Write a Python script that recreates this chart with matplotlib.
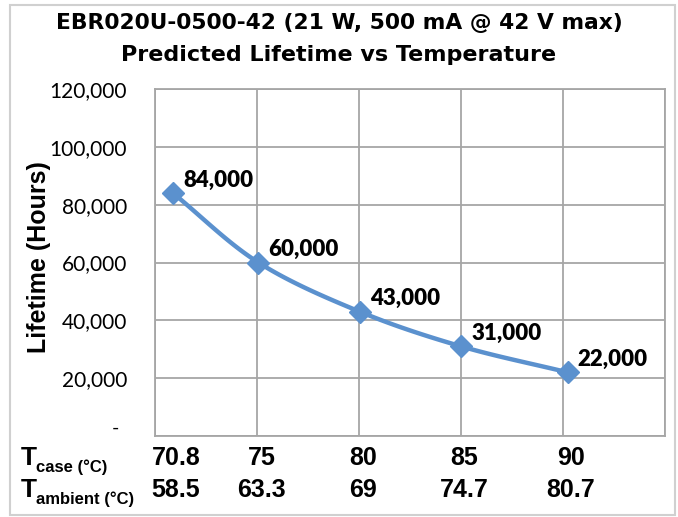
import matplotlib.pyplot as plt
import matplotlib.patches as patches
from matplotlib.ticker import FuncFormatter
import numpy as np

# data
t_case = ["70.8", "75", "80", "85", "90"]
t_ambient = [58.5, 63.3, 69, 74.7, 80.7]
lifetime = [84000, 60000, 43000, 31000, 22000]

W, H = 678, 517
head_font = ['Liberation Sans', 'DejaVu Sans']
title_font = ['DejaVu Sans']
num_font = ['Lato', 'DejaVu Sans']
blue = '#5b91ce'


def px(x, y):
    # pixel position (from top-left) to figure fraction
    return x / W, 1 - y / H


def smooth(xs, ys, n=30):
    # catmull-rom curve like Excel's "smoothed line"
    p = np.column_stack([np.asarray(xs, float), np.asarray(ys, float)])
    p = np.vstack([2 * p[0] - p[1], p, 2 * p[-1] - p[-2]])
    out = []
    t = np.linspace(0, 1, n)[:, None]
    for i in range(1, len(p) - 2):
        p0, p1, p2, p3 = p[i - 1], p[i], p[i + 1], p[i + 2]
        seg = 0.5 * ((2 * p1) + (-p0 + p2) * t + (2 * p0 - 5 * p1 + 4 * p2 - p3) * t ** 2
                     + (-p0 + 3 * p1 - 3 * p2 + p3) * t ** 3)
        out.append(seg)
    out = np.vstack(out)
    return out[:, 0], out[:, 1]


fig = plt.figure(figsize=(W / 100, H / 100), dpi=100)
ax = fig.add_axes([155 / W, 1 - 436 / H, (665 - 155) / W, (436 - 89) / H])

# chart border
fig.patches.append(patches.Rectangle(px(10, 515), (675 - 10) / W, (515 - 5) / H,
                                     transform=fig.transFigure, fill=False,
                                     edgecolor='#d0d0d0', linewidth=1.5))

sx, sy = smooth(t_ambient, lifetime)
ax.plot(sx, sy, color=blue, linewidth=3.2, solid_capstyle='round', zorder=3)
ax.plot(t_ambient, lifetime, linestyle='none', marker='D', markersize=11,
        color=blue, zorder=4)

for xv, yv in zip(t_ambient, lifetime):
    ax.annotate(f"{yv:,}", (xv, yv), xytext=(10, 13), textcoords='offset pixels',
                ha='left', va='center', fontsize=16, fontweight=800,
                family=num_font, zorder=5)

xmin, xmax = 57.49, 86.16
ax.set_xlim(xmin, xmax)
ax.set_xticks(np.linspace(xmin, xmax, 6))
ax.set_xticklabels([])
ax.set_ylim(0, 120000)
ax.set_yticks(np.arange(0, 120001, 20000))
ax.yaxis.set_major_formatter(FuncFormatter(lambda v, p: f"{int(v):,}" if v else ""))
ax.tick_params(length=0, pad=20)
for lab in ax.get_yticklabels():
    lab.set_family(num_font)
    lab.set_fontsize(15)
ax.annotate("-", (0, 0), xycoords=('axes fraction', 'data'), xytext=(-40, 8),
            textcoords='offset pixels', ha='center', va='center',
            fontsize=14, family=num_font, annotation_clip=False)
ax.grid(True, color='#a6a6a6', linewidth=1.3)
ax.set_axisbelow(True)
for s in ax.spines.values():
    s.set_color('#a6a6a6')
    s.set_linewidth(1.3)

ax.set_ylabel("Lifetime (Hours)", fontsize=18, fontweight='bold', family=head_font)
ax.yaxis.set_label_coords(51 / W, 1 - 257 / H, transform=fig.transFigure)

fig.text(*px(339, 23), "EBR020U-0500-42 (21 W, 500 mA @ 42 V max)", ha='center',
         va='center', fontsize=15.7, fontweight='bold', family=title_font)
fig.text(*px(339, 55), "Predicted Lifetime vs Temperature", ha='center',
         va='center', fontsize=16, fontweight='bold', family=title_font)

# temperature rows under the plot
for xv, c, a in zip(t_ambient, t_case, t_ambient):
    xf = ax.transData.transform((xv, 0))[0] / fig.dpi / fig.get_figwidth()
    fig.text(xf + 3 / W, 1 - 458 / H, c, ha='center', va='center', fontsize=18,
             fontweight='bold', family=head_font)
    fig.text(xf + 3 / W, 1 - 490 / H, f"{a:g}", ha='center', va='center', fontsize=18,
             fontweight='bold', family=head_font)

for y, sub in [(458, "case (°C)"), (490, "ambient (°C)")]:
    fig.text(*px(21, y), "T", ha='left', va='center', fontsize=19,
             fontweight='bold', family=head_font)
    fig.text(*px(36, y + 9), sub, ha='left', va='center', fontsize=12,
             fontweight='bold', family=head_font)

fig.savefig("out.png", dpi=100)
